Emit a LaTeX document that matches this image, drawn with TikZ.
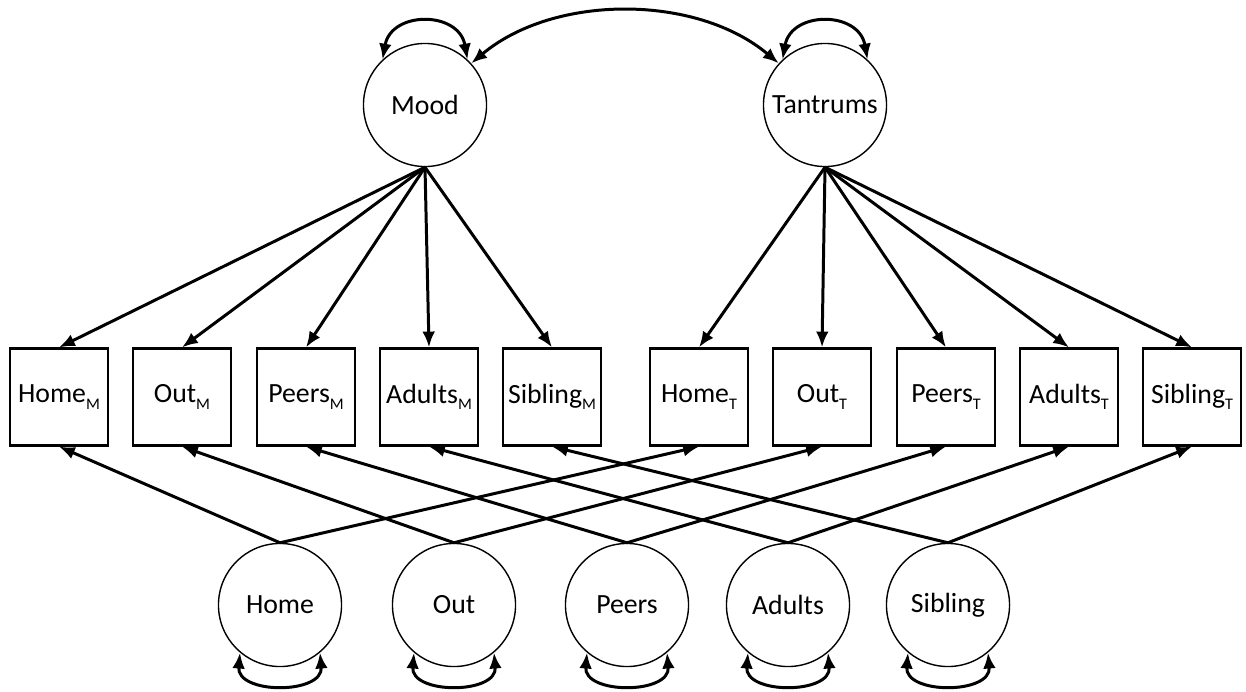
\documentclass[tikz,border=0pt]{standalone}
\usepackage{fontspec}
\setmainfont{Carlito}
\usetikzlibrary{arrows.meta}
\newcommand{\lsub}[1]{\raisebox{-1.9pt}{\fontsize{4.6pt}{5pt}\selectfont #1}}
\begin{document}
\begin{tikzpicture}[x=0.01cm,y=0.01cm]
\tikzstyle{every node}+=[inner sep=0pt,font=\fontsize{7.9pt}{9.5pt}\selectfont]
\tikzstyle{latent}=[draw,circle,line width=0.4pt,minimum size=1.23cm]
\tikzstyle{observed}=[draw,rectangle,line width=0.6pt,minimum width=0.98cm,minimum height=0.97cm]
\tikzstyle{load}=[line width=0.85pt,-{Latex[length=4.5pt,width=3.6pt]}]
\tikzstyle{covar}=[line width=0.85pt,{Latex[length=4.5pt,width=3.6pt]}-{Latex[length=4.5pt,width=3.6pt]}]
\useasboundingbox (0,0) rectangle (1246,-691);
\node [latent] (mood) at (425,-105) {Mood};
\node [latent] (tant) at (825,-105) {Tantrums};
\node [observed] (homeM) at (59,-397) {Home\lsub{M}};
\node [observed] (outM) at (182,-397) {Out\lsub{M}};
\node [observed] (peersM) at (306,-397) {Peers\lsub{M}};
\node [observed] (adultsM) at (429,-397) {Adults\lsub{M}};
\node [observed] (siblingM) at (552,-397) {Sibling\lsub{M}};
\node [observed] (homeT) at (699,-397) {Home\lsub{T}};
\node [observed] (outT) at (822,-397) {Out\lsub{T}};
\node [observed] (peersT) at (946,-397) {Peers\lsub{T}};
\node [observed] (adultsT) at (1069,-397) {Adults\lsub{T}};
\node [observed] (siblingT) at (1192,-397) {Sibling\lsub{T}};
\node [latent] (home) at (280,-605) {Home};
\node [latent] (out) at (454,-605) {Out};
\node [latent] (peers) at (627,-605) {Peers};
\node [latent] (adults) at (788,-605) {Adults};
\node [latent] (sibling) at (948,-605) {Sibling};
\draw [load] (mood.south) -- (homeM.north);
\draw [load] (mood.south) -- (outM.north);
\draw [load] (mood.south) -- (peersM.north);
\draw [load] (mood.south) -- (adultsM.north);
\draw [load] (mood.south) -- (siblingM.north);
\draw [load] (tant.south) -- (homeT.north);
\draw [load] (tant.south) -- (outT.north);
\draw [load] (tant.south) -- (peersT.north);
\draw [load] (tant.south) -- (adultsT.north);
\draw [load] (tant.south) -- (siblingT.north);
\draw [load] (home.north) -- (homeM.south);
\draw [load] (home.north) -- (homeT.south);
\draw [load] (out.north) -- (outM.south);
\draw [load] (out.north) -- (outT.south);
\draw [load] (peers.north) -- (peersM.south);
\draw [load] (peers.north) -- (peersT.south);
\draw [load] (adults.north) -- (adultsM.south);
\draw [load] (adults.north) -- (adultsT.south);
\draw [load] (sibling.north) -- (siblingM.south);
\draw [load] (sibling.north) -- (siblingT.south);
\draw [covar] (mood.42) to [out=40,in=140,looseness=0.9] (tant.138);
\draw [covar] (mood.133) to [out=80,in=100,looseness=1.5] (mood.47);
\draw [covar] (tant.133) to [out=80,in=100,looseness=1.5] (tant.47);
\draw [covar] (home.-130) to [out=-95,in=-85,looseness=1.35] (home.-50);
\draw [covar] (out.-130) to [out=-95,in=-85,looseness=1.35] (out.-50);
\draw [covar] (peers.-130) to [out=-95,in=-85,looseness=1.35] (peers.-50);
\draw [covar] (adults.-130) to [out=-95,in=-85,looseness=1.35] (adults.-50);
\draw [covar] (sibling.-130) to [out=-95,in=-85,looseness=1.35] (sibling.-50);
\end{tikzpicture}
\end{document}
